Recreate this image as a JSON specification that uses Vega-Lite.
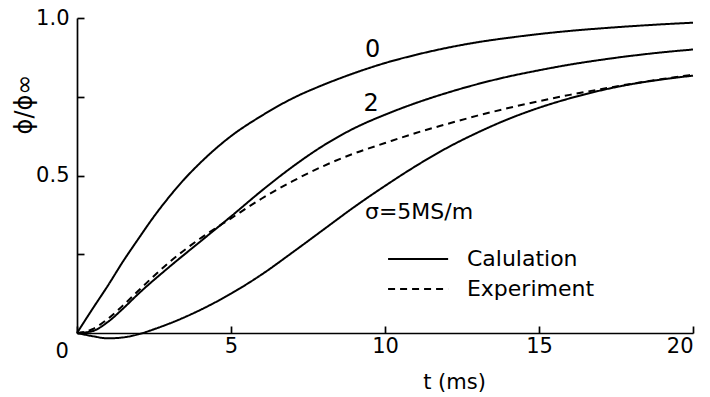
{
  "$schema": "https://vega.github.io/schema/vega-lite/v6.json",
  "width": 616,
  "height": 315,
  "autosize": {"type": "none"},
  "padding": {"left": 77, "top": 18, "right": 17, "bottom": 64},
  "background": "white",
  "config": {
    "view": {"stroke": null},
    "font": "DejaVu Sans",
    "axis": {
      "domainColor": "black", "domainWidth": 1.7, "tickColor": "black", "tickWidth": 1.7,
      "grid": false, "labelColor": "black", "titleColor": "black",
      "labelFont": "DejaVu Sans", "titleFont": "DejaVu Sans", "labelFontSize": 21, "titleFontSize": 21,
      "titleFontWeight": "normal"
    }
  },
  "datasets": {
    "curves": [
      {"t": 0, "v": 0, "s": "0", "kind": "calc"},
      {"t": 0.5, "v": 0.076, "s": "0", "kind": "calc"},
      {"t": 1, "v": 0.15, "s": "0", "kind": "calc"},
      {"t": 1.5, "v": 0.228, "s": "0", "kind": "calc"},
      {"t": 2, "v": 0.3, "s": "0", "kind": "calc"},
      {"t": 2.5, "v": 0.37, "s": "0", "kind": "calc"},
      {"t": 3, "v": 0.433, "s": "0", "kind": "calc"},
      {"t": 3.5, "v": 0.49, "s": "0", "kind": "calc"},
      {"t": 4, "v": 0.54, "s": "0", "kind": "calc"},
      {"t": 4.5, "v": 0.585, "s": "0", "kind": "calc"},
      {"t": 5, "v": 0.625, "s": "0", "kind": "calc"},
      {"t": 6, "v": 0.69, "s": "0", "kind": "calc"},
      {"t": 7, "v": 0.745, "s": "0", "kind": "calc"},
      {"t": 8, "v": 0.788, "s": "0", "kind": "calc"},
      {"t": 9, "v": 0.825, "s": "0", "kind": "calc"},
      {"t": 10, "v": 0.857, "s": "0", "kind": "calc"},
      {"t": 11, "v": 0.883, "s": "0", "kind": "calc"},
      {"t": 12, "v": 0.905, "s": "0", "kind": "calc"},
      {"t": 13, "v": 0.923, "s": "0", "kind": "calc"},
      {"t": 14, "v": 0.937, "s": "0", "kind": "calc"},
      {"t": 15, "v": 0.949, "s": "0", "kind": "calc"},
      {"t": 16, "v": 0.959, "s": "0", "kind": "calc"},
      {"t": 17, "v": 0.967, "s": "0", "kind": "calc"},
      {"t": 18, "v": 0.974, "s": "0", "kind": "calc"},
      {"t": 19, "v": 0.98, "s": "0", "kind": "calc"},
      {"t": 20, "v": 0.985, "s": "0", "kind": "calc"},
      {"t": 0, "v": 0, "s": "2", "kind": "calc"},
      {"t": 0.5, "v": 0.006, "s": "2", "kind": "calc"},
      {"t": 1, "v": 0.035, "s": "2", "kind": "calc"},
      {"t": 1.5, "v": 0.078, "s": "2", "kind": "calc"},
      {"t": 2, "v": 0.125, "s": "2", "kind": "calc"},
      {"t": 3, "v": 0.21, "s": "2", "kind": "calc"},
      {"t": 4, "v": 0.29, "s": "2", "kind": "calc"},
      {"t": 5, "v": 0.37, "s": "2", "kind": "calc"},
      {"t": 6, "v": 0.452, "s": "2", "kind": "calc"},
      {"t": 7, "v": 0.528, "s": "2", "kind": "calc"},
      {"t": 8, "v": 0.595, "s": "2", "kind": "calc"},
      {"t": 9, "v": 0.65, "s": "2", "kind": "calc"},
      {"t": 10, "v": 0.693, "s": "2", "kind": "calc"},
      {"t": 11, "v": 0.73, "s": "2", "kind": "calc"},
      {"t": 12, "v": 0.762, "s": "2", "kind": "calc"},
      {"t": 13, "v": 0.79, "s": "2", "kind": "calc"},
      {"t": 14, "v": 0.814, "s": "2", "kind": "calc"},
      {"t": 15, "v": 0.834, "s": "2", "kind": "calc"},
      {"t": 16, "v": 0.852, "s": "2", "kind": "calc"},
      {"t": 17, "v": 0.867, "s": "2", "kind": "calc"},
      {"t": 18, "v": 0.88, "s": "2", "kind": "calc"},
      {"t": 19, "v": 0.891, "s": "2", "kind": "calc"},
      {"t": 20, "v": 0.9, "s": "2", "kind": "calc"},
      {"t": 0, "v": 0, "s": "5", "kind": "calc"},
      {"t": 0.5, "v": -0.01, "s": "5", "kind": "calc"},
      {"t": 1, "v": -0.017, "s": "5", "kind": "calc"},
      {"t": 1.5, "v": -0.014, "s": "5", "kind": "calc"},
      {"t": 2, "v": -0.004, "s": "5", "kind": "calc"},
      {"t": 2.5, "v": 0.012, "s": "5", "kind": "calc"},
      {"t": 3, "v": 0.03, "s": "5", "kind": "calc"},
      {"t": 4, "v": 0.073, "s": "5", "kind": "calc"},
      {"t": 5, "v": 0.125, "s": "5", "kind": "calc"},
      {"t": 6, "v": 0.186, "s": "5", "kind": "calc"},
      {"t": 7, "v": 0.256, "s": "5", "kind": "calc"},
      {"t": 8, "v": 0.328, "s": "5", "kind": "calc"},
      {"t": 9, "v": 0.4, "s": "5", "kind": "calc"},
      {"t": 10, "v": 0.467, "s": "5", "kind": "calc"},
      {"t": 11, "v": 0.53, "s": "5", "kind": "calc"},
      {"t": 12, "v": 0.587, "s": "5", "kind": "calc"},
      {"t": 13, "v": 0.636, "s": "5", "kind": "calc"},
      {"t": 14, "v": 0.679, "s": "5", "kind": "calc"},
      {"t": 15, "v": 0.715, "s": "5", "kind": "calc"},
      {"t": 16, "v": 0.745, "s": "5", "kind": "calc"},
      {"t": 17, "v": 0.77, "s": "5", "kind": "calc"},
      {"t": 18, "v": 0.79, "s": "5", "kind": "calc"},
      {"t": 19, "v": 0.805, "s": "5", "kind": "calc"},
      {"t": 20, "v": 0.817, "s": "5", "kind": "calc"},
      {"t": 0, "v": 0, "s": "exp", "kind": "exp"},
      {"t": 0.5, "v": 0.012, "s": "exp", "kind": "exp"},
      {"t": 1, "v": 0.045, "s": "exp", "kind": "exp"},
      {"t": 1.5, "v": 0.088, "s": "exp", "kind": "exp"},
      {"t": 2, "v": 0.135, "s": "exp", "kind": "exp"},
      {"t": 3, "v": 0.225, "s": "exp", "kind": "exp"},
      {"t": 4, "v": 0.3, "s": "exp", "kind": "exp"},
      {"t": 5, "v": 0.364, "s": "exp", "kind": "exp"},
      {"t": 6, "v": 0.427, "s": "exp", "kind": "exp"},
      {"t": 7, "v": 0.482, "s": "exp", "kind": "exp"},
      {"t": 8, "v": 0.53, "s": "exp", "kind": "exp"},
      {"t": 9, "v": 0.57, "s": "exp", "kind": "exp"},
      {"t": 10, "v": 0.603, "s": "exp", "kind": "exp"},
      {"t": 11, "v": 0.635, "s": "exp", "kind": "exp"},
      {"t": 12, "v": 0.663, "s": "exp", "kind": "exp"},
      {"t": 13, "v": 0.69, "s": "exp", "kind": "exp"},
      {"t": 14, "v": 0.714, "s": "exp", "kind": "exp"},
      {"t": 15, "v": 0.736, "s": "exp", "kind": "exp"},
      {"t": 16, "v": 0.756, "s": "exp", "kind": "exp"},
      {"t": 17, "v": 0.774, "s": "exp", "kind": "exp"},
      {"t": 18, "v": 0.791, "s": "exp", "kind": "exp"},
      {"t": 19, "v": 0.806, "s": "exp", "kind": "exp"},
      {"t": 20, "v": 0.82, "s": "exp", "kind": "exp"}
    ],
    "legendlines": [
      {"t1": 10.1, "t2": 12.05, "v": 0.235, "kind": "calc"},
      {"t1": 10.1, "t2": 12.05, "v": 0.14, "kind": "exp"}
    ],
    "curvelabels": [
      {"t": 9.6, "v": 0.9, "label": "0"},
      {"t": 9.55, "v": 0.727, "label": "2"}
    ],
    "notes": [
      {"t": 9.35, "v": 0.384, "label": "σ=5MS/m"},
      {"t": 12.66, "v": 0.235, "label": "Calulation"},
      {"t": 12.66, "v": 0.14, "label": "Experiment"}
    ]
  },
  "encoding": {
    "x": {
      "field": "t", "type": "quantitative",
      "scale": {"domain": [0, 20], "nice": false},
      "axis": {
        "values": [0, 5, 10, 15, 20], "tickSize": -7,
        "labelPadding": {"condition": {"test": "datum.value == 0", "value": 14}, "value": 9},
        "labelOffset": {"condition": {"test": "datum.value == 0", "value": -22}, "value": 0},
        "title": "t (ms)", "titleX": 377, "titleY": 49, "titleBaseline": "middle", "titleAlign": "center"
      }
    },
    "y": {
      "field": "v", "type": "quantitative",
      "scale": {"domain": [0, 1], "nice": false},
      "axis": {
        "values": [0, 0.25, 0.5, 0.75, 1], "tickSize": -7, "labelPadding": 15,
        "labelExpr": "datum.value == 0.5 || datum.value == 1 ? format(datum.value, '.1f') : ''",
        "title": "ϕ/ϕ∞", "titleX": -53, "titleY": 86, "titleAngle": -90,
        "titleBaseline": "middle", "titleAlign": "center", "titleFontSize": 24
      }
    }
  },
  "layer": [
    {
      "data": {"name": "curves"},
      "mark": {"type": "line", "color": "black", "strokeWidth": 2, "clip": false, "interpolate": "monotone"},
      "encoding": {
        "detail": {"field": "s"},
        "strokeDash": {"field": "kind", "type": "nominal", "scale": {"domain": ["calc", "exp"], "range": [[1, 0], [7, 5]]}, "legend": null}
      }
    },
    {
      "data": {"name": "legendlines"},
      "mark": {"type": "rule", "color": "black", "strokeWidth": 2},
      "encoding": {
        "x": {"field": "t1", "type": "quantitative"},
        "x2": {"field": "t2"},
        "strokeDash": {"field": "kind", "type": "nominal", "scale": {"domain": ["calc", "exp"], "range": [[1, 0], [7, 5]]}, "legend": null}
      }
    },
    {
      "data": {"name": "curvelabels"},
      "mark": {"type": "text", "font": "DejaVu Sans", "fontSize": 24, "align": "center", "baseline": "middle", "color": "black"},
      "encoding": {"text": {"field": "label"}}
    },
    {
      "data": {"name": "notes"},
      "mark": {"type": "text", "font": "DejaVu Sans", "fontSize": 22, "align": "left", "baseline": "middle", "color": "black"},
      "encoding": {"text": {"field": "label"}}
    }
  ]
}
